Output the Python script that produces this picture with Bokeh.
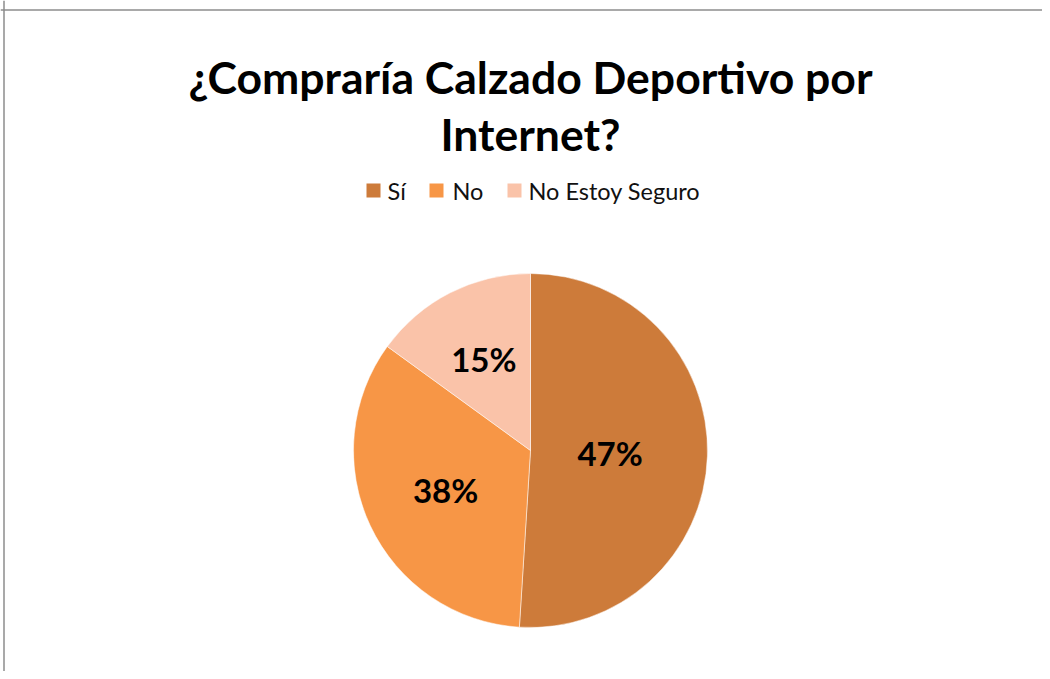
import math
from bokeh.plotting import figure
from bokeh.models import ColumnDataSource, Range1d, Span
from bokeh.core.properties import value
from bokeh.embed import file_html
from bokeh.resources import INLINE

# ---- data ----
categories = ["Sí", "No", "No Estoy Seguro"]
shares = [51.0, 34.0, 15.0]          # slice sizes as drawn
labels = ["47%", "38%", "15%"]       # data labels as printed
title_lines = ["¿Compraría Calzado Deportivo por", "Internet?"]

# ---- styles / layout ----
colors = ["#CD7B3A", "#F79646", "#FAC3A9"]
W, H = 1042, 671
def Y(pic_y):
    return H - pic_y

cx, cy, R = 530, Y(450), 177
label_r = [0.45, 0.53, 0.58]

p = figure(width=W, height=H, output_backend="svg", toolbar_location=None,
           x_range=Range1d(0, W), y_range=Range1d(0, H),
           min_border=0, outline_line_color=None)
p.axis.visible = False
p.grid.visible = False
p.background_fill_color = "white"
p.border_fill_color = "white"

# border lines of the chart area
p.add_layout(Span(location=Y(9.5), dimension="width", line_color="#8C8C8C", line_width=1.5))
p.add_layout(Span(location=3.5, dimension="height", line_color="#8C8C8C", line_width=1.5))

# ---- pie ----
total = sum(shares)
starts, ends, lx, ly = [], [], [], []
cum = 0.0
for i, s in enumerate(shares):
    a0 = cum / total * 2 * math.pi
    cum += s
    a1 = cum / total * 2 * math.pi
    # clockwise from 12 o'clock
    starts.append(math.pi / 2 - a1)
    ends.append(math.pi / 2 - a0)
    mid = math.pi / 2 - (a0 + a1) / 2
    lx.append(cx + label_r[i] * R * math.cos(mid))
    ly.append(cy + label_r[i] * R * math.sin(mid))

src = ColumnDataSource(dict(start=starts, end=ends, color=colors, lx=lx, ly=ly,
                            label=labels, cat=categories))
p.wedge(x=cx, y=cy, radius=R, start_angle="start", end_angle="end",
        direction="anticlock", fill_color="color", line_color="white",
        line_width=0.5, source=src)
p.text(x="lx", y="ly", text="label", source=src, text_align="center",
       text_baseline="middle", text_font=value("Lato"), text_font_style="bold",
       text_font_size="33px", text_color="black")

# ---- title ----
tsrc = ColumnDataSource(dict(x=[530, 530], y=[Y(76), Y(133)], t=title_lines))
p.text(x="x", y="y", text="t", source=tsrc, text_align="center",
       text_baseline="alphabetic", text_font=value("Lato"), text_font_style="bold",
       text_font_size="44.5px", text_color="black")

# ---- legend ----
sq_x = [373, 436, 514]
tx_x = [387, 452, 528]
leg_y = Y(190)
lsrc = ColumnDataSource(dict(sx=sq_x, tx=tx_x, y=[leg_y] * 3, color=colors, cat=categories))
p.rect(x="sx", y="y", width=14, height=14, fill_color="color", line_color=None, source=lsrc)
p.text(x="tx", y="y", text="cat", source=lsrc, text_align="left", text_baseline="middle",
       text_font=value("Lato"), text_font_size="23.5px", text_color="#111111")

open("out.html", "w").write(file_html(p, INLINE))
